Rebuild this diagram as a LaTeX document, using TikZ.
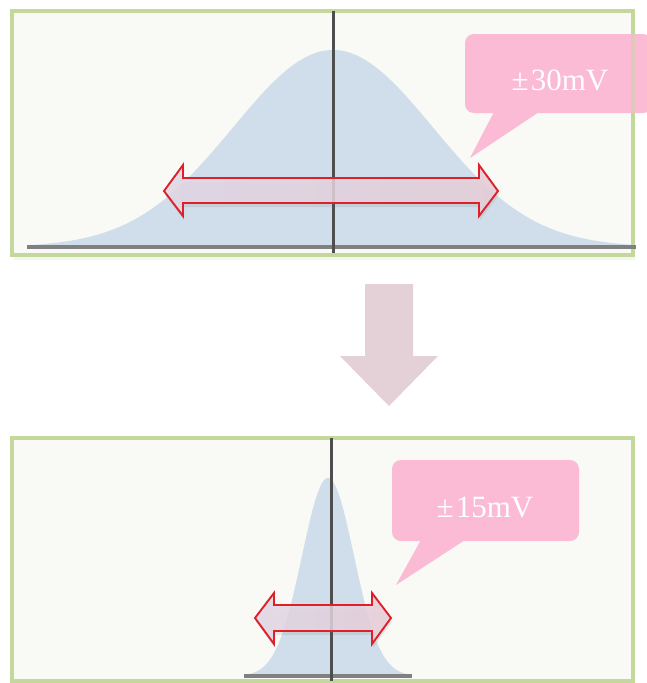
\documentclass[tikz,border=0pt]{standalone}
\usepackage{fontspec}
\setmainfont{Liberation Serif}
\usetikzlibrary{shadows}
\definecolor{panelfill}{RGB}{249,249,245}
\definecolor{panelborder}{RGB}{196,216,156}
\definecolor{curvefill}{RGB}{207,222,234}
\definecolor{axisdark}{RGB}{78,78,78}
\definecolor{basegray}{RGB}{128,128,128}
\definecolor{calloutpink}{RGB}{251,187,212}
\definecolor{arrowred}{RGB}{222,32,42}
\definecolor{arrowleft}{RGB}{226,216,230}
\definecolor{arrowright}{RGB}{232,206,216}
\definecolor{downarrow}{RGB}{228,208,215}
\tikzset{
  panel/.style={draw=panelborder, line width=3.2pt, fill=panelfill,
    drop shadow={shadow xshift=2pt, shadow yshift=-5pt, opacity=0.07, fill=black!60}},
  curve/.style={fill=curvefill, draw=none},
  vaxis/.style={draw=axisdark, line width=3pt},
  baseline/.style={draw=basegray, line width=3.4pt},
  dblarrow/.style={draw=arrowred, line width=1.9pt, left color=arrowleft, right color=arrowright, fill opacity=0.85,
    drop shadow={shadow xshift=1pt, shadow yshift=-4pt, opacity=0.12, fill=black!60}},
  callout/.style={fill=calloutpink, draw=none},
  callouttext/.style={text=white, font=\fontsize{31}{31}\selectfont, inner sep=0pt},
}
\begin{document}
\begin{tikzpicture}[x=1pt,y=-1pt]
\useasboundingbox (0,0) rectangle (646,683);
% ---------- top panel ----------
\path[panel] (12,11) rectangle (633,255);
\begin{scope}
  \clip (13.6,12.6) rectangle (631.4,253.4);
  \fill[curvefill] plot[domain=27:636, samples=200, smooth] (\x,{247-197*exp(-((\x-333)/100)^2/2)}) -- (636,247) -- (27,247) -- cycle;
\end{scope}
\draw[baseline] (27,247) -- (636,247);
\coordinate (t1) at (333,11);
\coordinate (t2) at (333,253);
\draw[vaxis] (t1) -- (t2);
\path[dblarrow] (164,191) -- (183,165) -- (183,178) -- (479,178) -- (479,165) -- (498,191) -- (479,216) -- (479,203) -- (183,203) -- (183,216) -- cycle;
% callout top
\fill[callout, rounded corners=9pt] (465,34) rectangle (652,113);
\fill[callout] (495,110) -- (542,110) -- (470,158) -- cycle;
\draw[panelborder, line width=3.2pt, opacity=0.45] (633,34) -- (633,113);
\node[callouttext] (lab30) at (560,80) {±\kern2pt30mV};
% ---------- down arrow ----------
\path[fill=downarrow] (365,284) -- (413,284) -- (413,356) -- (438,356) -- (389,406) -- (340,356) -- (365,356) -- cycle;
% ---------- bottom panel ----------
\path[panel] (12,438) rectangle (633,681);
\begin{scope}
  \clip (13.6,439.6) rectangle (631.4,679.4);
  \fill[curvefill] plot[domain=244:412, samples=200, smooth] (\x,{676-198*exp(-((\x-328)/26)^2/2)}) -- (412,676) -- (244,676) -- cycle;
\end{scope}
\draw[baseline] (244,676) -- (412,676);
\coordinate (b1) at (331,438);
\coordinate (b2) at (331,681);
\draw[vaxis] (b1) -- (b2);
\path[dblarrow] (255,618) -- (274,593) -- (274,605) -- (372,605) -- (372,593) -- (391,618) -- (372,644) -- (372,631) -- (274,631) -- (274,644) -- cycle;
% callout bottom
\fill[callout, rounded corners=9pt] (392,460) rectangle (579,541);
\fill[callout] (422,538) -- (468,538) -- (396,585) -- cycle;
\node[callouttext] (lab15) at (485,507) {±\kern2pt15mV};
\end{tikzpicture}
\end{document}
